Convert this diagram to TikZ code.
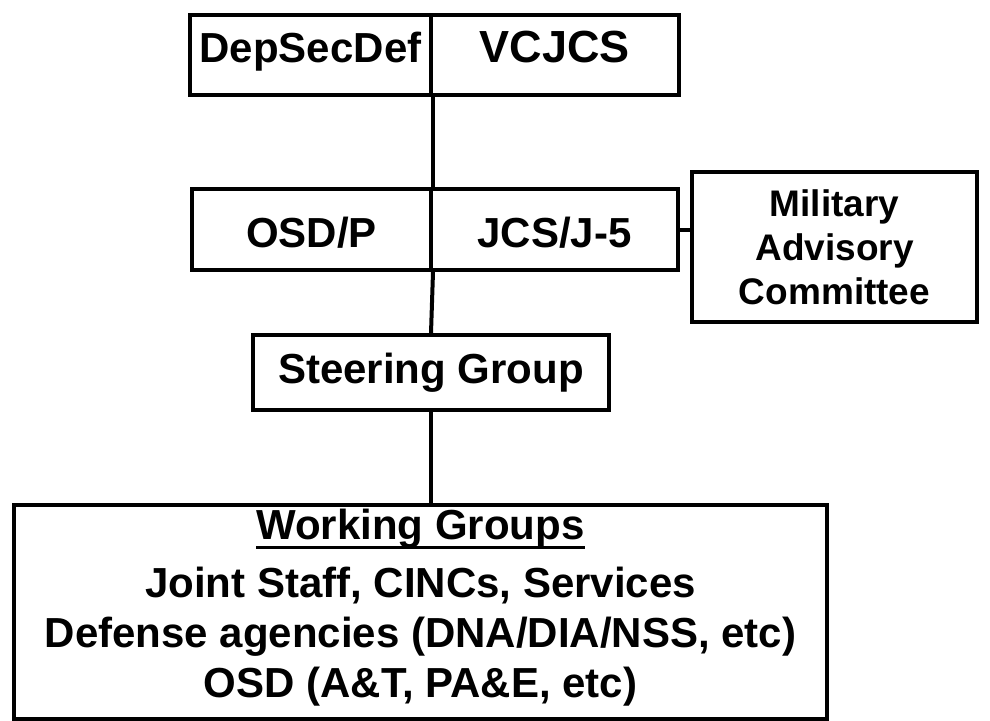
\documentclass[tikz,border=0pt]{standalone}
\usepackage{fontspec}
\setmainfont{Liberation Sans}
\newcommand\wgline[1]{\setbox0\hbox{#1}\rlap{\rule[-10pt]{\wd0}{3pt}}\box0}
\begin{document}
\begin{tikzpicture}[x=1pt,y=-1pt,
  box/.style={draw, line width=4pt, fill=white, inner sep=0pt, anchor=north west,
    font=\bfseries\fontsize{42}{50}\selectfont},
  toprow/.style={text height=30pt, text depth=16pt},
  midrow/.style={text height=35pt, text depth=0pt},
  link/.style={line width=4pt}]
\useasboundingbox (0,0) rectangle (990,720);
% top row
\node[box, toprow, minimum width=241pt, minimum height=80pt] (dep) at (188,13) {DepSecDef};
\node[box, toprow, minimum width=248pt, minimum height=80pt,
  font=\bfseries\fontsize{45}{50}\selectfont] (vc) at (429,13) {VCJCS};
% second row
\node[box, midrow, minimum width=239pt, minimum height=81pt] (osd) at (190,187) {OSD/P};
\node[box, midrow, minimum width=247pt, minimum height=81pt] (jcs) at (429,187) {JCS/J-5};
\node[box, minimum width=285pt, minimum height=150pt, align=center,
  font=\bfseries\fontsize{37}{44}\selectfont] (mac) at (690,170) {Military\\Advisory\\Committee};
% steering group
\node[box, minimum width=356pt, minimum height=75pt] (steer) at (251,333) {Steering Group};
% working groups
\node[box, minimum width=813pt, minimum height=214pt, align=center, text depth=18pt] (wg) at (12,503)
  {\wgline{Working Groups}\\[8pt]Joint Staff, CINCs, Services\\Defense agencies (DNA/DIA/NSS, etc)\\OSD (A\&T, PA\&E, etc)};
% connectors
\draw[link] (dep.south east) -- (osd.north east);
\draw[link] (osd.south east) -- (steer.north);
\draw[link] (jcs.east) -- (jcs.east -| mac.west);
\draw[link] (steer.south) -- (steer.south |- wg.north);
\end{tikzpicture}
\end{document}
